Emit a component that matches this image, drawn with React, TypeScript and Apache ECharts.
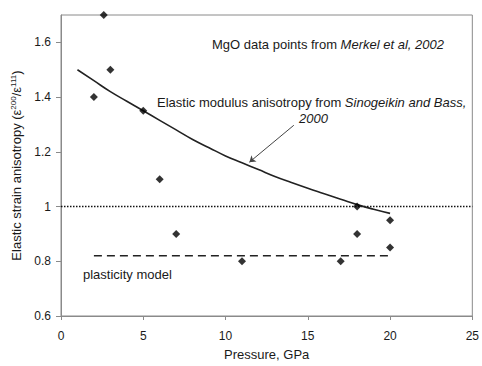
import React, { useEffect, useRef } from "react";
import * as echarts from "echarts";

const pointsX = [2, 2.6, 3, 5, 6, 7, 11, 17, 18, 18, 20, 20];
const pointsY = [1.4, 1.7, 1.5, 1.35, 1.1, 0.9, 0.8, 0.8, 1.0, 0.9, 0.95, 0.85];

const curveX = [1, 2, 3, 4, 5, 6, 7, 8, 9, 10, 11, 12, 13, 14, 15, 16, 17, 18, 19, 20];
const curveY = [1.5, 1.46, 1.42, 1.385, 1.35, 1.315, 1.28, 1.245, 1.215, 1.185, 1.16, 1.135, 1.11, 1.088, 1.067, 1.047, 1.027, 1.007, 0.99, 0.975];

const refLineX = [0, 25];
const refLineY = [1, 1];
const plasticX = [2, 20];
const plasticY = [0.82, 0.82];
const arrowFrom = [14.15, 1.297];
const arrowTo = [11.45, 1.162];

const xTicks = [0, 5, 10, 15, 20, 25];
const yTicks = [0.6, 0.8, 1.0, 1.2, 1.4, 1.6];

const FONT = 'Arial, "Liberation Sans", sans-serif';
const TXT = "#1a1a1a";
const AX = "#8a8a8a";

export default function App() {
  const ref = useRef<HTMLDivElement>(null);
  useEffect(() => {
    if (!ref.current) return;
    const chart = echarts.init(ref.current, undefined, { renderer: "svg" });
    chart.setOption({
      animation: false,
      textStyle: { fontFamily: FONT },
      grid: {
        left: 61,
        right: 5,
        top: 15,
        bottom: 44,
        show: true,
        borderColor: AX,
        borderWidth: 1,
      },
      xAxis: {
        type: "value",
        min: xTicks[0],
        max: xTicks[xTicks.length - 1],
        interval: 5,
        name: "Pressure, GPa",
        nameLocation: "middle",
        nameGap: 32,
        nameTextStyle: { fontSize: 13, color: TXT, fontFamily: FONT },
        axisLine: { lineStyle: { color: AX, width: 1 } },
        axisTick: { show: true, length: 4, lineStyle: { color: AX } },
        axisLabel: { fontSize: 12, color: TXT, margin: 14, fontFamily: FONT },
        splitLine: { show: false },
      },
      yAxis: {
        type: "value",
        min: yTicks[0],
        max: 1.7,
        interval: 0.2,
        name: "{n|Elastic strain anisotropy (ε}{s|200}{n|/ε}{s|111}{n|)}",
        nameLocation: "middle",
        nameRotate: 90,
        nameGap: 26,
        nameTextStyle: {
          color: TXT,
          fontFamily: FONT,
          rich: {
            n: { fontSize: 13, color: TXT, fontFamily: FONT },
            s: { fontSize: 8, color: TXT, fontFamily: FONT, padding: [0, 0, 7, 0] },
          },
        },
        axisLine: { show: true, lineStyle: { color: AX, width: 1 } },
        axisTick: { show: true, length: 5, lineStyle: { color: AX } },
        axisLabel: {
          fontSize: 12,
          color: TXT,
          margin: 10,
          fontFamily: FONT,
          showMaxLabel: false,
          formatter: (v: number) => {
            const r = Math.round(v * 10) / 10;
            if (Math.abs(r - 1.7) < 1e-6) return "";
            return r === 1 ? "1" : r.toFixed(1);
          },
        },
        splitLine: { show: false },
      },
      series: [
        {
          type: "line",
          data: refLineX.map((x, i) => [x, refLineY[i]]),
          symbol: "none",
          lineStyle: { color: "#111", width: 1.5, type: [1.5, 1.5] },
          silent: true,
          z: 2,
        },
        {
          type: "line",
          data: plasticX.map((x, i) => [x, plasticY[i]]),
          symbol: "none",
          lineStyle: { color: "#222", width: 1.6, type: [8, 5] },
          silent: true,
          z: 2,
        },
        {
          type: "line",
          data: curveX.map((x, i) => [x, curveY[i]]),
          smooth: true,
          symbol: "none",
          lineStyle: { color: "#222", width: 1.6 },
          z: 3,
        },
        {
          type: "lines",
          coordinateSystem: "cartesian2d",
          symbol: ["none", "arrow"],
          symbolSize: 6,
          lineStyle: { color: "#444", width: 1, opacity: 1 },
          data: [{ coords: [arrowFrom, arrowTo] }],
          z: 3,
        },
        {
          type: "scatter",
          data: pointsX.map((x, i) => [x, pointsY[i]]),
          symbol: "diamond",
          symbolSize: 8,
          itemStyle: { color: "#000" },
          z: 4,
        },
      ],
      graphic: [
        {
          type: "text",
          left: 212,
          top: 38,
          style: {
            text: "MgO data points from {i|Merkel et al, 2002}",
            font: `13px ${FONT}`,
            fill: TXT,
            rich: { i: { fontStyle: "italic", fontSize: 13, fontFamily: FONT, fill: TXT } },
          },
        },
        {
          type: "text",
          left: 157,
          top: 96,
          style: {
            text: "Elastic modulus anisotropy from {i|Sinogeikin and Bass,}",
            font: `13px ${FONT}`,
            fill: TXT,
            rich: { i: { fontStyle: "italic", fontSize: 13, fontFamily: FONT, fill: TXT } },
          },
        },
        {
          type: "text",
          left: 299,
          top: 112,
          style: {
            text: "{i|2000}",
            font: `13px ${FONT}`,
            fill: TXT,
            rich: { i: { fontStyle: "italic", fontSize: 13, fontFamily: FONT, fill: TXT } },
          },
        },
        {
          type: "text",
          left: 83,
          top: 268,
          style: { text: "plasticity model", font: `13px ${FONT}`, fill: TXT },
        },
      ],
    });
    return () => chart.dispose();
  }, []);
  return (
    <div
      ref={ref}
      style={{ position: "absolute", left: 0, top: 0, width: 482, height: 366 }}
    />
  );
}
